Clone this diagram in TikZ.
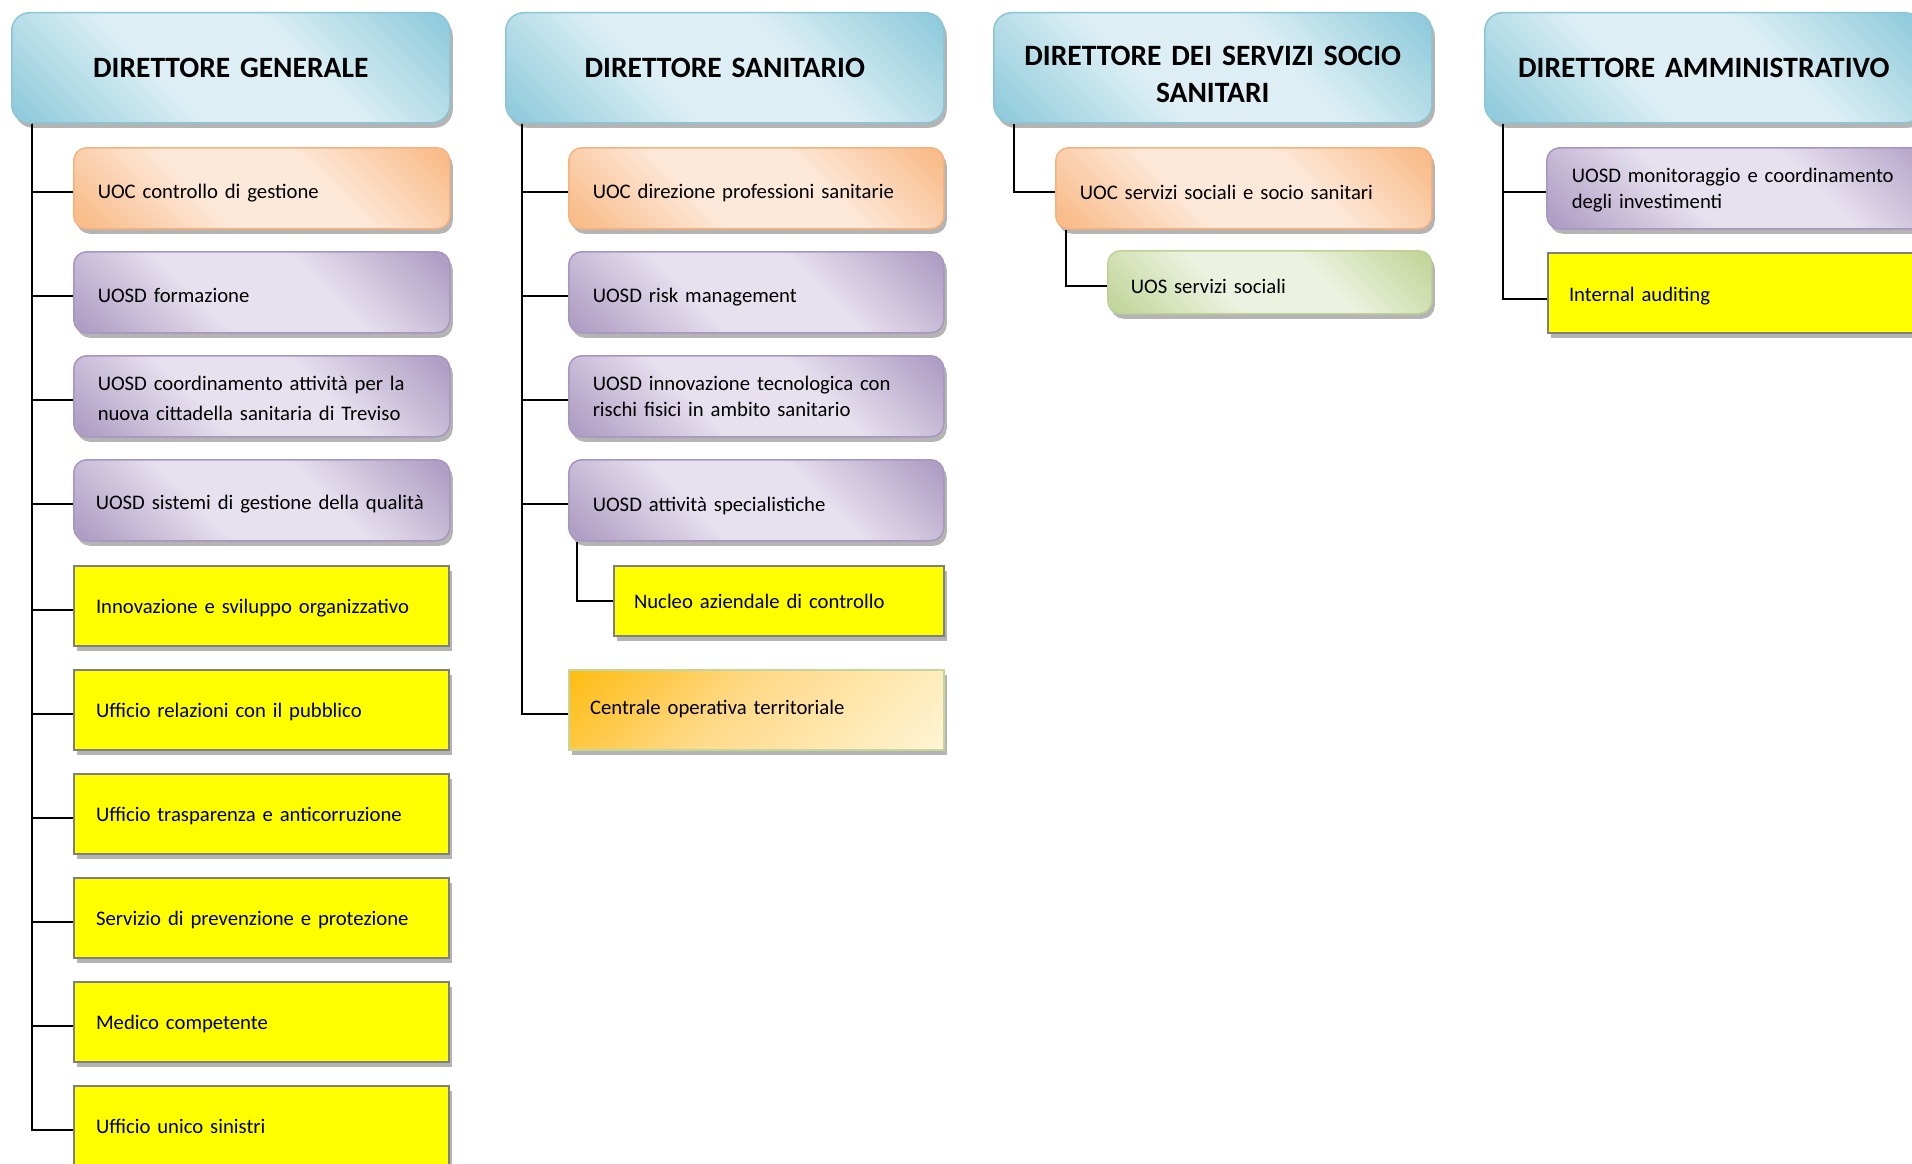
\documentclass[tikz,border=0pt]{standalone}
\usepackage{fontspec}
\setmainfont{Carlito}
\usetikzlibrary{shadows}
\definecolor{hdDark}{HTML}{92CCDC}
\definecolor{hdLight}{HTML}{DDEFF5}
\definecolor{hdBorder}{HTML}{8AC6D6}
\definecolor{orDark}{HTML}{F9BC8A}
\definecolor{orLight}{HTML}{FDE9DA}
\definecolor{orBorder}{HTML}{F6B27E}
\definecolor{puDark}{HTML}{B09FC5}
\definecolor{puLight}{HTML}{E7E1EF}
\definecolor{puBorder}{HTML}{A895C1}
\definecolor{grDark}{HTML}{C3D69B}
\definecolor{grLight}{HTML}{ECF2E0}
\definecolor{grBorder}{HTML}{BCD193}
\definecolor{coDark}{HTML}{FFBC12}
\definecolor{coMid}{HTML}{FFD987}
\definecolor{coLight}{HTML}{FFF4D4}
\definecolor{coBorder}{HTML}{C3D69B}
\definecolor{ylFill}{HTML}{FFFF00}
\definecolor{ylBorder}{HTML}{7F7F7F}
\definecolor{shad}{HTML}{B4B4B4}
\pgfdeclarehorizontalshading{hdsh}{100bp}{color(0bp)=(hdDark); color(17bp)=(hdDark); color(40bp)=(hdLight); color(60bp)=(hdLight); color(83bp)=(hdDark); color(100bp)=(hdDark)}
\pgfdeclarehorizontalshading{orsh}{100bp}{color(0bp)=(orDark); color(17bp)=(orDark); color(40bp)=(orLight); color(60bp)=(orLight); color(83bp)=(orDark); color(100bp)=(orDark)}
\pgfdeclarehorizontalshading{push}{100bp}{color(0bp)=(puDark); color(17bp)=(puDark); color(40bp)=(puLight); color(60bp)=(puLight); color(83bp)=(puDark); color(100bp)=(puDark)}
\pgfdeclarehorizontalshading{grsh}{100bp}{color(0bp)=(grDark); color(17bp)=(grDark); color(40bp)=(grLight); color(60bp)=(grLight); color(83bp)=(grDark); color(100bp)=(grDark)}
\pgfdeclarehorizontalshading{cosh}{100bp}{color(0bp)=(coDark); color(15bp)=(coDark); color(45bp)=(coMid); color(85bp)=(coLight); color(100bp)=(coLight)}
\begin{document}
\begin{tikzpicture}[x=1pt,y=-1pt,
  tb/.style 2 args={text height=#1pt, text depth=#2pt},
  boxbase/.style={anchor=north west, inner ysep=0pt, align=left,
    general shadow={fill=shad, shadow xshift=3pt, shadow yshift=-5pt},
    font=\fontsize{20.7}{25.5}\selectfont},
  hdr/.style={boxbase, text width=390pt, inner xsep=24pt,
    align=center, rounded corners=18pt, draw=hdBorder, line width=1.5pt,
    shading=hdsh, shading angle=45,
    font=\fontsize{29.5}{37}\selectfont\bfseries},
  rbox/.style={boxbase, rounded corners=13pt, line width=1.5pt},
  orbox/.style={rbox, draw=orBorder, shading=orsh, shading angle=45},
  pubox/.style={rbox, draw=puBorder, shading=push, shading angle=45},
  grbox/.style={rbox, draw=grBorder, shading=grsh, shading angle=45},
  ylbox/.style={boxbase, fill=ylFill, draw=ylBorder, line width=2pt},
  cobox/.style={boxbase, draw=coBorder, line width=2pt, shading=cosh, shading angle=-45},
  conn/.style={draw=black, line width=2pt}
]
\clip (0,0) rectangle (1912,1164);
\fill[white] (0,0) rectangle (1912,1164);

% headers
\node[hdr, tb={65}{45}] (dg) at (11,12) {DIRETTORE GENERALE};
\node[hdr, tb={65}{45}] (ds) at (505,12) {DIRETTORE SANITARIO};
\node[hdr, tb={53}{57}] (dss) at (993,12) {DIRETTORE DEI SERVIZI SOCIO\\SANITARI};
\node[hdr, tb={65}{45}] (da) at (1484,12) {DIRETTORE AMMINISTRATIVO};

% column 1
\node[orbox, tb={51}{30}, text width=328pt, inner xsep=24pt] (c1) at (73,147) {UOC controllo di gestione};
\node[pubox, tb={51}{30}, text width=328pt, inner xsep=24pt] (c2) at (73,251) {UOSD formazione};
\node[pubox, tb={35}{46}, text width=328pt, inner xsep=24pt, font=\fontsize{20.7}{30}\selectfont] (c3) at (73,355) {\mbox{UOSD coordinamento attività per la}\\\mbox{nuova cittadella sanitaria di Treviso}};
\node[pubox, tb={50}{31}, text width=332pt, inner xsep=22pt] (c4) at (73,459) {\mbox{UOSD sistemi di gestione della qualità}};
\node[ylbox, tb={47}{33}, text width=331pt, inner xsep=22pt] (c5) at (73,565) {\mbox{Innovazione e sviluppo organizzativo}};
\node[ylbox, tb={47}{33}, text width=331pt, inner xsep=22pt] (c6) at (73,669) {Ufficio relazioni con il pubblico};
\node[ylbox, tb={47}{33}, text width=331pt, inner xsep=22pt] (c7) at (73,773) {Ufficio trasparenza e anticorruzione};
\node[ylbox, tb={47}{33}, text width=331pt, inner xsep=22pt] (c8) at (73,877) {Servizio di prevenzione e protezione};
\node[ylbox, tb={47}{33}, text width=331pt, inner xsep=22pt] (c9) at (73,981) {Medico competente};
\node[ylbox, tb={47}{33}, text width=331pt, inner xsep=22pt] (c10) at (73,1085) {Ufficio unico sinistri};

% column 2
\node[orbox, tb={51}{30}, text width=327pt, inner xsep=24pt] (d1) at (568,147) {\mbox{UOC direzione professioni sanitarie}};
\node[pubox, tb={51}{30}, text width=327pt, inner xsep=24pt] (d2) at (568,251) {UOSD risk management};
\node[pubox, tb={35}{46}, text width=327pt, inner xsep=24pt] (d3) at (568,355) {\mbox{UOSD innovazione tecnologica con}\\\mbox{rischi fisici in ambito sanitario}};
\node[pubox, tb={52}{29}, text width=327pt, inner xsep=24pt] (d4) at (568,459) {UOSD attività specialistiche};
\node[ylbox, tb={42}{28}, text width=290pt, inner xsep=20pt] (d5) at (613,565) {Nucleo aziendale di controllo};
\node[cobox, tb={44}{36}, text width=333pt, inner xsep=21pt] (d6) at (568,669) {Centrale operativa territoriale};

% column 3
\node[orbox, tb={52}{29}, text width=328pt, inner xsep=24pt] (e1) at (1055,147) {\mbox{UOC servizi sociali e socio sanitari}};
\node[grbox, tb={43}{20}, text width=278pt, inner xsep=23pt] (e2) at (1107,250) {UOS servizi sociali};

% column 4
\node[pubox, tb={35}{46}, text width=350pt, inner xsep=25pt] (f1) at (1546,147) {\mbox{UOSD monitoraggio e coordinamento}\\degli investimenti};
\node[ylbox, tb={48}{32}, text width=358pt, inner xsep=21pt] (f2) at (1547,252) {Internal auditing};

% connectors
\foreach \n in {c1,c2,c3,c4,c5,c6,c7,c8,c9,c10}
  \draw[conn] ([xshift=21pt]dg.south west) |- ([yshift=-4pt]\n.west);
\foreach \n in {d1,d2,d3,d4,d6}
  \draw[conn] ([xshift=17pt]ds.south west) |- ([yshift=-4pt]\n.west);
\draw[conn] ([xshift=9pt]d4.south west) |- (d5.west);
\draw[conn] ([xshift=21pt]dss.south west) |- ([yshift=-4pt]e1.west);
\draw[conn] ([xshift=11pt]e1.south west) |- ([yshift=-4pt]e2.west);
\draw[conn] ([xshift=19pt]da.south west) |- ([yshift=-4pt]f1.west);
\draw[conn] ([xshift=19pt]da.south west) |- ([yshift=-6pt]f2.west);
\end{tikzpicture}
\end{document}
